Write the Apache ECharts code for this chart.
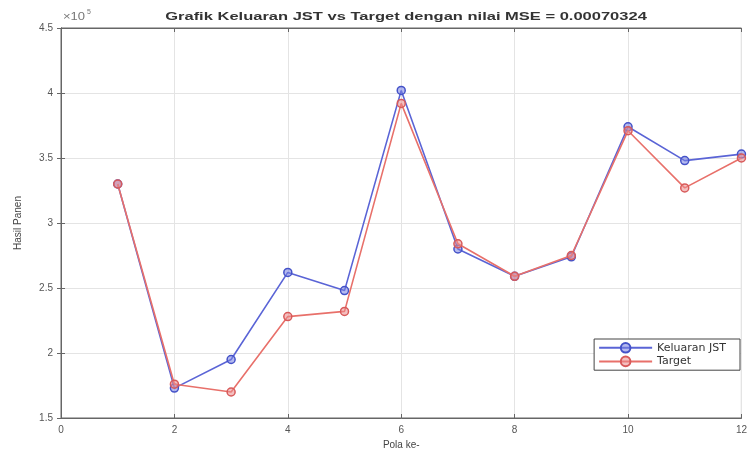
<!DOCTYPE html>
<html>
<head>
<meta charset="utf-8">
<script src="https://cdn.jsdelivr.net/npm/echarts@6/dist/echarts.min.js"></script>
<style>html,body{margin:0;padding:0;background:#fff;}#c{width:750px;height:455px;}</style>
</head>
<body>
<div id="c"></div>
<script>
const categories = [1, 2, 3, 4, 5, 6, 7, 8, 9, 10, 11, 12];
const keluaranJST = [3.30, 1.73, 1.95, 2.62, 2.48, 4.02, 2.80, 2.59, 2.74, 3.74, 3.48, 3.53];
const target = [3.30, 1.76, 1.70, 2.28, 2.32, 3.92, 2.84, 2.59, 2.75, 3.71, 3.27, 3.50];
const xTicks = [0, 2, 4, 6, 8, 10, 12];
const yTicks = [1.5, 2, 2.5, 3, 3.5, 4, 4.5];
const titleText = 'Grafik Keluaran JST vs Target dengan nilai MSE = 0.00070324';

const chart = echarts.init(document.getElementById('c'));
const pair = a => categories.map((c, i) => [c, a[i]]);
const labelCol = '#555';
const font = 'Liberation Sans, Arial, sans-serif';
const gridLine = { show: true, lineStyle: { color: '#e4e4e4', width: 1 } };

chart.setOption({
  backgroundColor: '#fff',
  animation: false,
  legend: {
    right: 10, top: 339, orient: 'vertical',
    backgroundColor: '#fff', borderColor: '#444', borderWidth: 1, borderRadius: 0,
    padding: [3, 14, 3, 4], itemGap: 2, itemWidth: 53, itemHeight: 12,
    textStyle: { fontSize: 11, color: '#333', fontFamily: 'DejaVu Sans, sans-serif' },
    data: ['Keluaran JST', 'Target']
  },
  graphic: [{
    type: 'text', x: 406, y: 11, scaleX: 1.5,
    style: { text: titleText, align: 'center', fontSize: 11, fontWeight: 'bold', fill: '#333', fontFamily: font }
  }, {
    type: 'text', x: 63, y: 12, scaleX: 1.3,
    style: { text: '×10', fontSize: 10, fill: '#777', fontFamily: font }
  }, {
    type: 'text', x: 87, y: 9,
    style: { text: '5', fontSize: 7, fill: '#777', fontFamily: font }
  }],
  grid: { left: 61, right: 4, top: 28, bottom: 31, show: true, borderColor: '#666', borderWidth: 1 },
  xAxis: [{
    type: 'value', min: 0, max: 12, interval: 2,
    name: 'Pola ke-', nameLocation: 'middle', nameGap: 22,
    nameTextStyle: { fontSize: 10, color: '#444', fontFamily: font },
    axisLine: { show: true, lineStyle: { color: '#666' } },
    axisTick: { show: true, inside: true, length: 4, lineStyle: { color: '#666' } },
    axisLabel: { fontSize: 10, color: labelCol, fontFamily: font, margin: 7,
      customValues: xTicks },
    splitLine: gridLine
  }, {
    type: 'value', min: 0, max: 12, interval: 2, position: 'top',
    axisLine: { show: true, lineStyle: { color: '#666' } },
    axisTick: { show: true, inside: true, length: 4, lineStyle: { color: '#666' } },
    axisLabel: { show: false }, splitLine: { show: false }
  }],
  yAxis: [{
    type: 'value', min: 1.5, max: 4.5, interval: 0.5,
    name: 'Hasil Panen', nameLocation: 'middle', nameGap: 38,
    nameTextStyle: { fontSize: 10, color: '#444', fontFamily: font },
    axisLine: { show: true, lineStyle: { color: '#666' } },
    axisTick: { show: true, inside: true, length: 4, lineStyle: { color: '#666' } },
    axisLabel: { fontSize: 10, color: labelCol, fontFamily: font, margin: 8,
      customValues: yTicks, formatter: v => String(v) },
    splitLine: gridLine
  }, {
    type: 'value', min: 1.5, max: 4.5, interval: 0.5, position: 'right',
    axisLine: { show: true, lineStyle: { color: '#666' } },
    axisTick: { show: true, inside: true, length: 4, lineStyle: { color: '#666' } },
    axisLabel: { show: false }, splitLine: { show: false }
  }],
  series: [{
    name: 'Keluaran JST', type: 'line', data: pair(keluaranJST),
    symbol: 'circle', symbolSize: 8, showSymbol: true,
    lineStyle: { color: '#5a64d6', width: 1.6 },
    itemStyle: { color: 'rgba(120,130,225,0.55)', borderColor: '#4452c8', borderWidth: 1.5 },
    z: 2
  }, {
    name: 'Target', type: 'line', data: pair(target),
    symbol: 'circle', symbolSize: 8, showSymbol: true,
    lineStyle: { color: '#e8706a', width: 1.6 },
    itemStyle: { color: 'rgba(235,140,140,0.55)', borderColor: '#d85a5a', borderWidth: 1.5 },
    z: 3
  }]
});
</script>
</body>
</html>
